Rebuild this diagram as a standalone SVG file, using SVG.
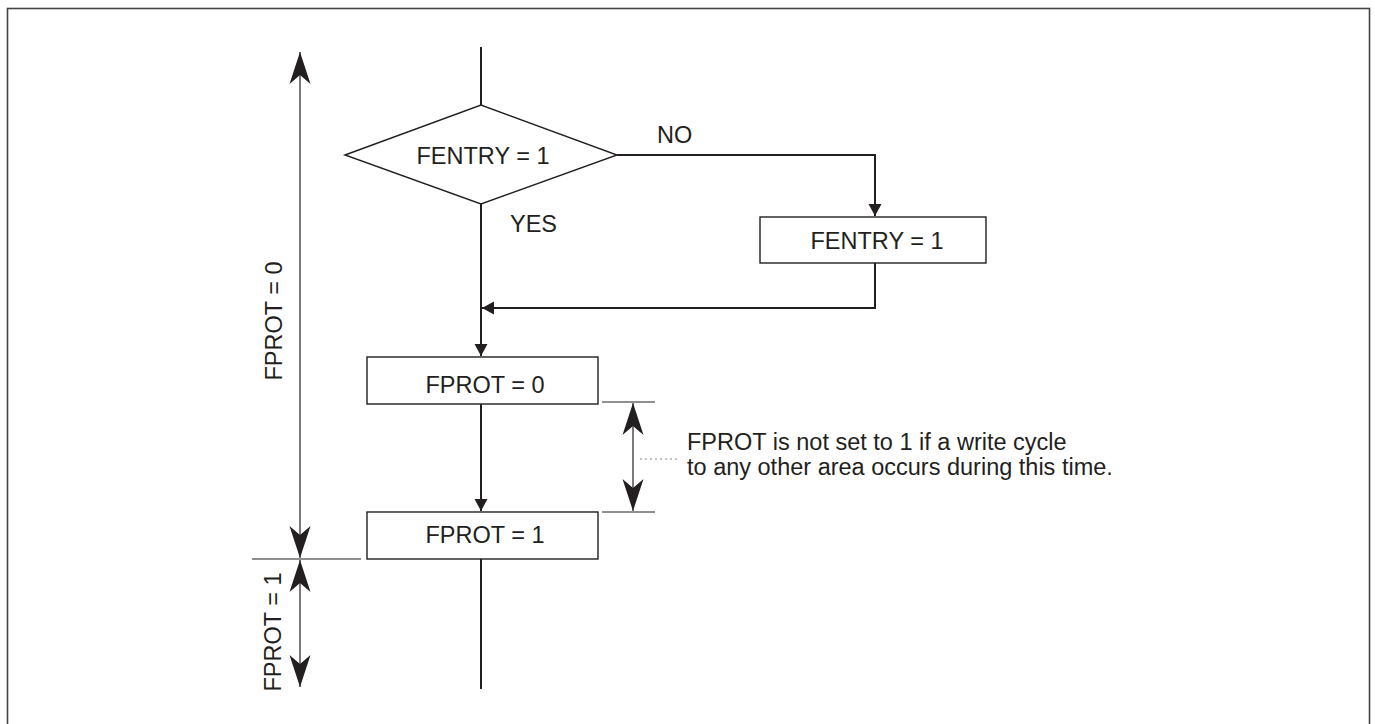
<svg xmlns="http://www.w3.org/2000/svg" width="1375" height="724" viewBox="0 0 1375 724">
<style>
text{font-family:"Liberation Sans",Arial,sans-serif;font-size:23.5px;fill:#231f20}
.c{text-anchor:middle}
.box{fill:#fff;stroke:#231f20;stroke-width:1.4}
.flow{fill:none;stroke:#231f20;stroke-width:2}
.dim{fill:none;stroke:#231f20;stroke-width:1.2}
.tick{fill:none;stroke:#231f20;stroke-width:1}
</style>
<defs>
<marker id="sa" markerUnits="userSpaceOnUse" markerWidth="14" markerHeight="14" viewBox="-12 -7 14 14" refX="0" refY="0" orient="auto">
<path d="M0,0 L-12,-6.5 L-12,6.5 Z" fill="#231f20"/>
</marker>
<marker id="ba" markerUnits="userSpaceOnUse" markerWidth="34" markerHeight="24" viewBox="-33 -12 34 24" refX="0" refY="0" orient="auto-start-reverse">
<path d="M0,0 L-32,-10.5 L-23,0 L-32,10.5 Z" fill="#231f20"/>
</marker>
</defs>
<rect x="7.5" y="8.5" width="1362" height="730" fill="none" stroke="#444" stroke-width="1.6"/>
<g id="connectors">
<line class="flow" x1="481" y1="47" x2="481" y2="105"/>
<line class="flow" x1="481" y1="204" x2="481" y2="356" marker-end="url(#sa)"/>
<polyline class="flow" points="617,155 875,155 875,216" marker-end="url(#sa)"/>
<polyline class="flow" points="875,263 875,308 482,308" marker-end="url(#sa)"/>
<line class="flow" x1="481" y1="404" x2="481" y2="511" marker-end="url(#sa)"/>
<line class="flow" x1="481" y1="559" x2="481" y2="689"/>
</g>
<g id="diamond-fentry">
<polygon class="box" points="345,155 481,105 617,155 481,204"/>
<text class="c" x="483" y="164">FENTRY = 1</text>
</g>
<g id="label-no"><text x="657" y="143">NO</text></g>
<g id="label-yes"><text x="510" y="232">YES</text></g>
<g id="box-fentry">
<rect class="box" x="760" y="217" width="226" height="46"/>
<text class="c" x="877" y="249">FENTRY = 1</text>
</g>
<g id="box-fprot0">
<rect class="box" x="367" y="357" width="231" height="47"/>
<text class="c" x="485" y="393">FPROT = 0</text>
</g>
<g id="box-fprot1">
<rect class="box" x="367" y="512" width="231" height="47"/>
<text class="c" x="485" y="543">FPROT = 1</text>
</g>
<g id="dim-fprot0">
<line class="dim" x1="300" y1="52" x2="300" y2="558" marker-start="url(#ba)" marker-end="url(#ba)"/>
<text class="c" transform="translate(282,321) rotate(-90)">FPROT = 0</text>
</g>
<g id="dim-fprot1">
<line class="tick" x1="252" y1="559" x2="361" y2="559"/>
<line class="dim" x1="300" y1="560" x2="300" y2="687" marker-start="url(#ba)" marker-end="url(#ba)"/>
<text class="c" transform="translate(281,632) rotate(-90)">FPROT = 1</text>
</g>
<g id="dim-window">
<line class="tick" x1="602" y1="402" x2="655" y2="402"/>
<line class="tick" x1="602" y1="512" x2="655" y2="512"/>
<line class="dim" x1="633" y1="403" x2="633" y2="511" marker-start="url(#ba)" marker-end="url(#ba)"/>
<line x1="640" y1="459" x2="677" y2="459" stroke="#888" stroke-width="1" stroke-dasharray="2,3"/>
<text x="687" y="450">FPROT is not set to 1 if a write cycle</text>
<text x="687" y="475">to any other area occurs during this time.</text>
</g>
</svg>
